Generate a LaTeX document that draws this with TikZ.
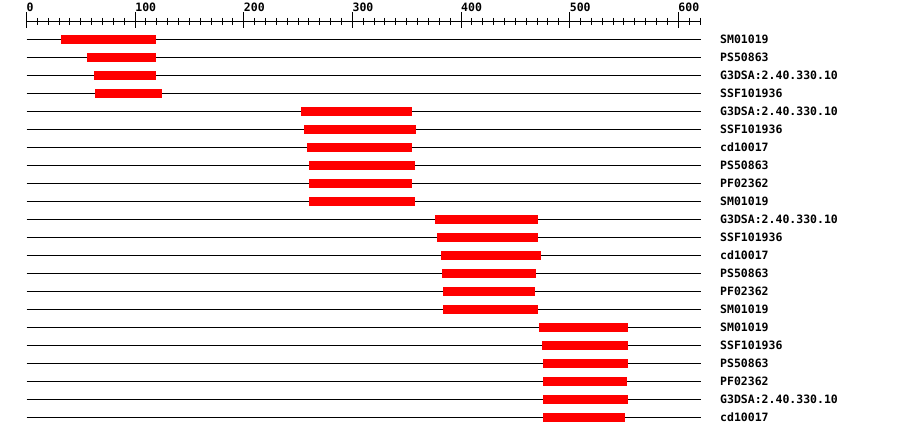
\documentclass[tikz,border=0pt]{standalone}
\usepackage{fontspec}
\newfontfamily\trackfont{DejaVu Sans Mono}
\usetikzlibrary{positioning}

\begin{document}
\begin{tikzpicture}[
  x=1pt, y=-1pt,
  font=\trackfont\bfseries\fontsize{11.5}{12}\selectfont,
  track/.style={line width=1pt, black},
  hit/.style={fill=red, draw=none},
  rulerln/.style={line width=1pt, black},
  lbl/.style={anchor=base west, inner sep=0pt}
]
  \useasboundingbox (0,0) rectangle (900,436);
  \def\sc{1.0863}
  \def\xo{26.5}

  % ruler
  \draw[rulerln] (\xo,21.5) -- (700,21.5);
  \foreach \t in {0,10,...,620}
    \draw[rulerln] ({\xo+\t*\sc},18) -- ({\xo+\t*\sc},25);
  \foreach \t in {0,100,...,600} {
    \draw[rulerln] ({\xo+\t*\sc},12) -- ({\xo+\t*\sc},28);
    \node[lbl] (ax\t) at ({\xo+\t*\sc},11.5) {\t};
  }

  % tracks with hits
  \foreach [count=\i] \a/\b/\name in {
      32/119/SM01019, 56/119/PS50863, 62/119/G3DSA:2.40.330.10, 63/125/SSF101936,
      253/355/G3DSA:2.40.330.10, 255.5/358.5/SSF101936, 258.2/355/cd10017,
      260/357.6/PS50863, 260/355/PF02362, 260/357.6/SM01019,
      376/471/G3DSA:2.40.330.10, 378/471/SSF101936, 381.6/473.6/cd10017,
      382.5/469/PS50863, 383.4/468/PF02362, 383.4/471/SM01019,
      471.8/553.7/SM01019, 474.5/553.7/SSF101936, 475.4/553.7/PS50863,
      475.4/552.8/PF02362, 475.4/553.7/G3DSA:2.40.330.10, 475.4/550.9/cd10017} {
    \pgfmathsetmacro\yy{39.3+18*(\i-1)}
    \draw[track] (\xo,\yy) -- (701,\yy);
    \fill[hit] ({\xo+\a*\sc},{\yy-4.5}) rectangle ({\xo+\b*\sc},{\yy+4.5});
    \node[lbl] (name\i) at (720,{\yy+4.2}) {\name};
  }
\end{tikzpicture}
\end{document}
